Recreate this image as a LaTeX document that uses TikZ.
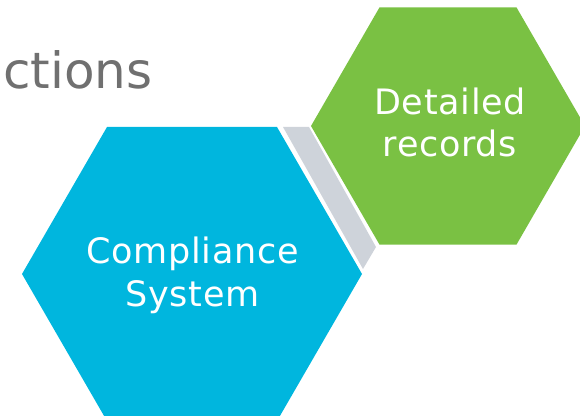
\documentclass[tikz,border=0pt]{standalone}
\usepackage{fontspec}
\setmainfont{DejaVu Sans}
\newfontfamily\lblfont[LetterSpace=2]{DejaVu Sans}
\definecolor{hexblue}{RGB}{0,182,222}
\definecolor{hexgreen}{RGB}{122,193,67}
\definecolor{linkgray}{RGB}{206,211,218}
\definecolor{titlegray}{RGB}{112,112,112}
\tikzset{
  hexlabel/.style={text=white, font=\lblfont\fontsize{35}{42}\selectfont, align=center, inner sep=0pt, anchor=base}
}
\begin{document}
\begin{tikzpicture}[x=1pt,y=1pt]
\useasboundingbox (0,0) rectangle (580,415);
% title fragment
\node[anchor=base west, inner sep=0pt, text=titlegray, font=\fontsize{50}{60}\selectfont] (title) at (3,326) {ctions};
% connector band
\fill[linkgray] (283,288) -- (309,288) -- (376,168) -- (363,146) -- cycle;
% blue hexagon
\fill[hexblue] (22,141) -- (107,288) -- (277,288) -- (362,141) -- (277,-6) -- (107,-6) -- cycle;
% green hexagon
\fill[hexgreen] (311,289) -- (379.5,407.6) -- (516.5,407.6) -- (585,289) -- (516.5,170.4) -- (379.5,170.4) -- cycle;
% labels
\node[hexlabel] (comp) at (192.5,109) {Compliance\\System};
\node[hexlabel] (det) at (450,258) {Detailed\\records};
\end{tikzpicture}
\end{document}
